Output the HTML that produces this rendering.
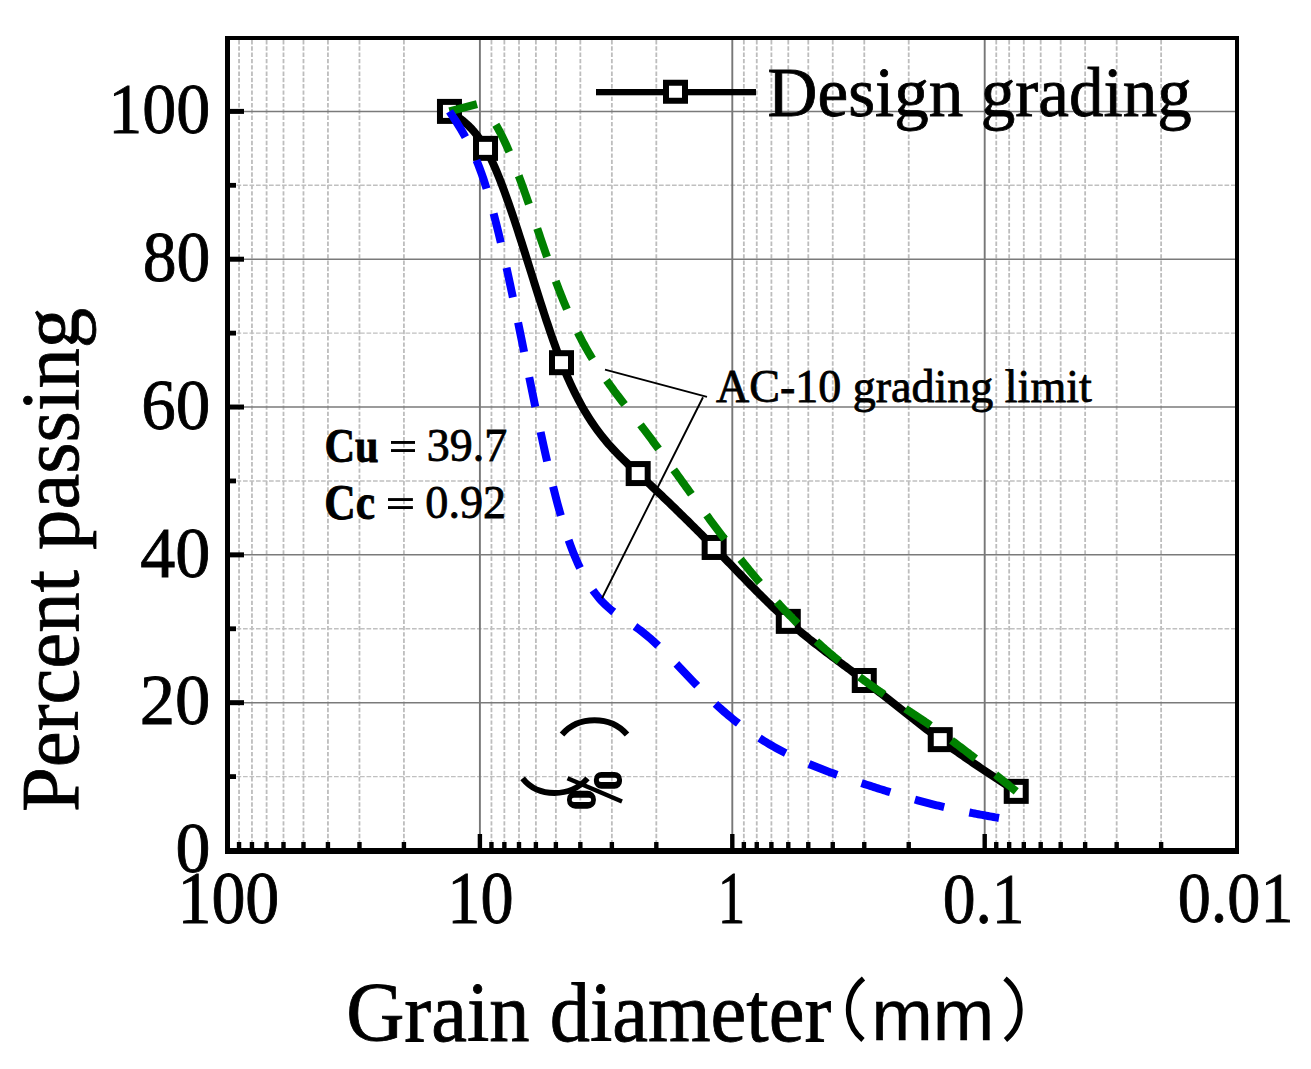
<!DOCTYPE html>
<html><head><meta charset="utf-8"><style>
html,body{margin:0;padding:0;background:#fff;width:1311px;height:1069px;overflow:hidden}
svg{display:block}
text{fill:#000}
.mv{stroke:#bdbdbd;stroke-width:1.8;stroke-dasharray:4.4 1.9}
.mh{stroke:#c0c0c0;stroke-width:1.4;stroke-dasharray:4.7 1.8}
.Mv{stroke:#777;stroke-width:1.9}
.Mh{stroke:#7a7a7a;stroke-width:1.5}
</style></head><body>
<svg width="1311" height="1069" viewBox="0 0 1311 1069">
<rect x="0" y="0" width="1311" height="1069" fill="#fff"/>
<g><line x1="403.92" y1="40" x2="403.92" y2="848" class="mv"/><line x1="359.47" y1="40" x2="359.47" y2="848" class="mv"/><line x1="327.94" y1="40" x2="327.94" y2="848" class="mv"/><line x1="303.48" y1="40" x2="303.48" y2="848" class="mv"/><line x1="283.49" y1="40" x2="283.49" y2="848" class="mv"/><line x1="266.60" y1="40" x2="266.60" y2="848" class="mv"/><line x1="251.96" y1="40" x2="251.96" y2="848" class="mv"/><line x1="239.05" y1="40" x2="239.05" y2="848" class="mv"/><line x1="656.32" y1="40" x2="656.32" y2="848" class="mv"/><line x1="611.87" y1="40" x2="611.87" y2="848" class="mv"/><line x1="580.34" y1="40" x2="580.34" y2="848" class="mv"/><line x1="555.88" y1="40" x2="555.88" y2="848" class="mv"/><line x1="535.89" y1="40" x2="535.89" y2="848" class="mv"/><line x1="519.00" y1="40" x2="519.00" y2="848" class="mv"/><line x1="504.36" y1="40" x2="504.36" y2="848" class="mv"/><line x1="491.45" y1="40" x2="491.45" y2="848" class="mv"/><line x1="908.72" y1="40" x2="908.72" y2="848" class="mv"/><line x1="864.27" y1="40" x2="864.27" y2="848" class="mv"/><line x1="832.74" y1="40" x2="832.74" y2="848" class="mv"/><line x1="808.28" y1="40" x2="808.28" y2="848" class="mv"/><line x1="788.29" y1="40" x2="788.29" y2="848" class="mv"/><line x1="771.40" y1="40" x2="771.40" y2="848" class="mv"/><line x1="756.76" y1="40" x2="756.76" y2="848" class="mv"/><line x1="743.85" y1="40" x2="743.85" y2="848" class="mv"/><line x1="1161.12" y1="40" x2="1161.12" y2="848" class="mv"/><line x1="1116.67" y1="40" x2="1116.67" y2="848" class="mv"/><line x1="1085.14" y1="40" x2="1085.14" y2="848" class="mv"/><line x1="1060.68" y1="40" x2="1060.68" y2="848" class="mv"/><line x1="1040.69" y1="40" x2="1040.69" y2="848" class="mv"/><line x1="1023.80" y1="40" x2="1023.80" y2="848" class="mv"/><line x1="1009.16" y1="40" x2="1009.16" y2="848" class="mv"/><line x1="996.25" y1="40" x2="996.25" y2="848" class="mv"/><line x1="230" y1="776.59" x2="1235" y2="776.59" class="mh"/><line x1="230" y1="628.77" x2="1235" y2="628.77" class="mh"/><line x1="230" y1="480.95" x2="1235" y2="480.95" class="mh"/><line x1="230" y1="333.13" x2="1235" y2="333.13" class="mh"/><line x1="230" y1="185.31" x2="1235" y2="185.31" class="mh"/><line x1="479.90" y1="40" x2="479.90" y2="848" class="Mv"/><line x1="732.30" y1="40" x2="732.30" y2="848" class="Mv"/><line x1="984.70" y1="40" x2="984.70" y2="848" class="Mv"/><line x1="230" y1="702.68" x2="1235" y2="702.68" class="Mh"/><line x1="230" y1="554.86" x2="1235" y2="554.86" class="Mh"/><line x1="230" y1="407.04" x2="1235" y2="407.04" class="Mh"/><line x1="230" y1="259.22" x2="1235" y2="259.22" class="Mh"/><line x1="230" y1="111.40" x2="1235" y2="111.40" class="Mh"/></g>
<g><rect x="230" y="848.00" width="14" height="5" fill="#000"/><rect x="230" y="700.18" width="14" height="5" fill="#000"/><rect x="230" y="552.36" width="14" height="5" fill="#000"/><rect x="230" y="404.54" width="14" height="5" fill="#000"/><rect x="230" y="256.72" width="14" height="5" fill="#000"/><rect x="230" y="108.90" width="14" height="5" fill="#000"/><rect x="230" y="774.19" width="6" height="4.8" fill="#000"/><rect x="230" y="626.37" width="6" height="4.8" fill="#000"/><rect x="230" y="478.55" width="6" height="4.8" fill="#000"/><rect x="230" y="330.73" width="6" height="4.8" fill="#000"/><rect x="230" y="182.91" width="6" height="4.8" fill="#000"/><rect x="477.70" y="834" width="4.4" height="14" fill="#000"/><rect x="730.10" y="834" width="4.4" height="14" fill="#000"/><rect x="982.50" y="834" width="4.4" height="14" fill="#000"/><rect x="401.72" y="842" width="4.4" height="6" fill="#000"/><rect x="357.27" y="842" width="4.4" height="6" fill="#000"/><rect x="325.74" y="842" width="4.4" height="6" fill="#000"/><rect x="301.28" y="842" width="4.4" height="6" fill="#000"/><rect x="281.29" y="842" width="4.4" height="6" fill="#000"/><rect x="264.40" y="842" width="4.4" height="6" fill="#000"/><rect x="249.76" y="842" width="4.4" height="6" fill="#000"/><rect x="236.85" y="842" width="4.4" height="6" fill="#000"/><rect x="654.12" y="842" width="4.4" height="6" fill="#000"/><rect x="609.67" y="842" width="4.4" height="6" fill="#000"/><rect x="578.14" y="842" width="4.4" height="6" fill="#000"/><rect x="553.68" y="842" width="4.4" height="6" fill="#000"/><rect x="533.69" y="842" width="4.4" height="6" fill="#000"/><rect x="516.80" y="842" width="4.4" height="6" fill="#000"/><rect x="502.16" y="842" width="4.4" height="6" fill="#000"/><rect x="489.25" y="842" width="4.4" height="6" fill="#000"/><rect x="906.52" y="842" width="4.4" height="6" fill="#000"/><rect x="862.07" y="842" width="4.4" height="6" fill="#000"/><rect x="830.54" y="842" width="4.4" height="6" fill="#000"/><rect x="806.08" y="842" width="4.4" height="6" fill="#000"/><rect x="786.09" y="842" width="4.4" height="6" fill="#000"/><rect x="769.20" y="842" width="4.4" height="6" fill="#000"/><rect x="754.56" y="842" width="4.4" height="6" fill="#000"/><rect x="741.65" y="842" width="4.4" height="6" fill="#000"/><rect x="1158.92" y="842" width="4.4" height="6" fill="#000"/><rect x="1114.47" y="842" width="4.4" height="6" fill="#000"/><rect x="1082.94" y="842" width="4.4" height="6" fill="#000"/><rect x="1058.48" y="842" width="4.4" height="6" fill="#000"/><rect x="1038.49" y="842" width="4.4" height="6" fill="#000"/><rect x="1021.60" y="842" width="4.4" height="6" fill="#000"/><rect x="1006.96" y="842" width="4.4" height="6" fill="#000"/><rect x="994.05" y="842" width="4.4" height="6" fill="#000"/></g>
<path d="M449.47,111.40 L451.36,112.63 L453.26,113.87 L455.15,115.14 L457.05,116.44 L458.94,117.79 L460.84,119.20 L462.74,120.68 L464.63,122.24 L466.53,123.90 L468.42,125.67 L470.32,127.55 L472.21,129.56 L474.11,131.71 L476.00,134.02 L477.90,136.50 L479.80,139.15 L481.69,141.99 L483.59,145.03 L485.48,148.28 L487.38,151.76 L489.27,155.45 L491.17,159.35 L493.06,163.44 L494.96,167.73 L496.86,172.19 L498.75,176.82 L500.65,181.60 L502.54,186.54 L504.44,191.62 L506.33,196.83 L508.23,202.16 L510.12,207.60 L512.02,213.14 L513.92,218.78 L515.81,224.50 L517.71,230.29 L519.60,236.15 L521.50,242.06 L523.39,248.02 L525.29,254.02 L527.18,260.04 L529.08,266.08 L530.98,272.12 L532.87,278.17 L534.77,284.20 L536.66,290.21 L538.56,296.20 L540.45,302.14 L542.35,308.03 L544.24,313.87 L546.14,319.64 L548.04,325.33 L549.93,330.93 L551.83,336.44 L553.72,341.84 L555.62,347.12 L557.51,352.28 L559.41,357.31 L561.30,362.19 L563.20,366.92 L565.10,371.50 L566.99,375.94 L568.89,380.23 L570.78,384.38 L572.68,388.40 L574.57,392.29 L576.47,396.05 L578.36,399.68 L580.26,403.20 L582.16,406.60 L584.05,409.89 L585.95,413.07 L587.84,416.15 L589.74,419.13 L591.63,422.01 L593.53,424.80 L595.42,427.50 L597.32,430.12 L599.22,432.66 L601.11,435.12 L603.01,437.51 L604.90,439.83 L606.80,442.09 L608.69,444.28 L610.59,446.42 L612.48,448.51 L614.38,450.55 L616.27,452.54 L618.17,454.49 L620.07,456.40 L621.96,458.28 L623.86,460.13 L625.75,461.96 L627.65,463.76 L629.54,465.54 L631.44,467.32 L633.33,469.08 L635.23,470.83 L637.13,472.59 L639.02,474.34 L640.92,476.10 L642.81,477.86 L644.71,479.63 L646.60,481.40 L648.50,483.18 L650.39,484.96 L652.29,486.74 L654.19,488.53 L656.08,490.32 L657.98,492.12 L659.87,493.92 L661.77,495.72 L663.66,497.53 L665.56,499.34 L667.45,501.16 L669.35,502.99 L671.25,504.81 L673.14,506.64 L675.04,508.48 L676.93,510.32 L678.83,512.17 L680.72,514.02 L682.62,515.87 L684.51,517.73 L686.41,519.60 L688.31,521.47 L690.20,523.34 L692.10,525.22 L693.99,527.11 L695.89,529.00 L697.78,530.89 L699.68,532.79 L701.57,534.69 L703.47,536.60 L705.37,538.52 L707.26,540.44 L709.16,542.36 L711.05,544.30 L712.95,546.23 L714.84,548.17 L716.74,550.12 L718.63,552.07 L720.53,554.02 L722.43,555.98 L724.32,557.94 L726.22,559.91 L728.11,561.87 L730.01,563.84 L731.90,565.80 L733.80,567.77 L735.69,569.73 L737.59,571.69 L739.49,573.65 L741.38,575.61 L743.28,577.56 L745.17,579.51 L747.07,581.46 L748.96,583.40 L750.86,585.33 L752.75,587.26 L754.65,589.18 L756.55,591.09 L758.44,592.99 L760.34,594.89 L762.23,596.77 L764.13,598.65 L766.02,600.51 L767.92,602.36 L769.81,604.20 L771.71,606.03 L773.61,607.84 L775.50,609.64 L777.40,611.43 L779.29,613.20 L781.19,614.95 L783.08,616.69 L784.98,618.41 L786.87,620.11 L788.77,621.80 L790.66,623.47 L792.56,625.11 L794.46,626.74 L796.35,628.36 L798.25,629.96 L800.14,631.54 L802.04,633.11 L803.93,634.66 L805.83,636.20 L807.72,637.73 L809.62,639.25 L811.52,640.75 L813.41,642.24 L815.31,643.72 L817.20,645.20 L819.10,646.66 L820.99,648.12 L822.89,649.56 L824.78,651.00 L826.68,652.44 L828.58,653.87 L830.47,655.29 L832.37,656.71 L834.26,658.12 L836.16,659.53 L838.05,660.94 L839.95,662.35 L841.84,663.76 L843.74,665.16 L845.64,666.57 L847.53,667.97 L849.43,669.38 L851.32,670.78 L853.22,672.20 L855.11,673.61 L857.01,675.03 L858.90,676.45 L860.80,677.88 L862.70,679.31 L864.59,680.75 L866.49,682.19 L868.38,683.65 L870.28,685.10 L872.17,686.57 L874.07,688.04 L875.96,689.51 L877.86,690.99 L879.76,692.47 L881.65,693.96 L883.55,695.45 L885.44,696.94 L887.34,698.43 L889.23,699.93 L891.13,701.43 L893.02,702.93 L894.92,704.43 L896.82,705.93 L898.71,707.43 L900.61,708.94 L902.50,710.44 L904.40,711.94 L906.29,713.44 L908.19,714.93 L910.08,716.43 L911.98,717.92 L913.88,719.41 L915.77,720.90 L917.67,722.38 L919.56,723.86 L921.46,725.33 L923.35,726.80 L925.25,728.27 L927.14,729.73 L929.04,731.18 L930.94,732.63 L932.83,734.07 L934.73,735.50 L936.62,736.93 L938.52,738.34 L940.41,739.75 L942.31,741.15 L944.20,742.55 L946.10,743.93 L947.99,745.31 L949.89,746.67 L951.79,748.04 L953.68,749.39 L955.58,750.74 L957.47,752.08 L959.37,753.41 L961.26,754.74 L963.16,756.06 L965.05,757.37 L966.95,758.68 L968.85,759.98 L970.74,761.28 L972.64,762.57 L974.53,763.86 L976.43,765.14 L978.32,766.42 L980.22,767.70 L982.11,768.97 L984.01,770.23 L985.91,771.49 L987.80,772.75 L989.70,774.01 L991.59,775.26 L993.49,776.51 L995.38,777.76 L997.28,779.00 L999.17,780.25 L1001.07,781.49 L1002.97,782.73 L1004.86,783.97 L1006.76,785.20 L1008.65,786.44 L1010.55,787.67 L1012.44,788.91 L1014.34,790.14 L1016.23,791.37" fill="none" stroke="#000" stroke-width="8.0" stroke-linejoin="round"/>
<rect x="439.97" y="101.90" width="19.0" height="19.0" fill="#fff" stroke="#000" stroke-width="6.0"/>
<rect x="476.02" y="138.86" width="19.0" height="19.0" fill="#fff" stroke="#000" stroke-width="6.0"/>
<rect x="552.00" y="353.19" width="19.0" height="19.0" fill="#fff" stroke="#000" stroke-width="6.0"/>
<rect x="628.68" y="464.06" width="19.0" height="19.0" fill="#fff" stroke="#000" stroke-width="6.0"/>
<rect x="704.66" y="537.97" width="19.0" height="19.0" fill="#fff" stroke="#000" stroke-width="6.0"/>
<rect x="778.79" y="611.88" width="19.0" height="19.0" fill="#fff" stroke="#000" stroke-width="6.0"/>
<rect x="854.77" y="671.01" width="19.0" height="19.0" fill="#fff" stroke="#000" stroke-width="6.0"/>
<rect x="930.75" y="730.13" width="19.0" height="19.0" fill="#fff" stroke="#000" stroke-width="6.0"/>
<rect x="1006.73" y="781.87" width="19.0" height="19.0" fill="#fff" stroke="#000" stroke-width="6.0"/>
<path d="M495.83,124.81 L496.78,126.40 L497.72,128.04 L498.67,129.73 L499.62,131.47 L500.56,133.27 L501.51,135.11 L502.45,137.00 L503.40,138.94 L504.35,140.93 L505.29,142.95 L506.24,145.03 L507.18,147.14 L508.13,149.29 L509.08,151.48 L510.02,153.71 L510.97,155.98 L511.92,158.28 L512.86,160.61 L513.81,162.98 L514.75,165.38 L515.70,167.81 L516.65,170.27 L517.59,172.75 L518.54,175.27 L519.49,177.81 L520.43,180.37 L521.38,182.95 L522.32,185.56 L523.27,188.18 L524.22,190.83 L525.16,193.49 L526.11,196.17 L527.05,198.86 L528.00,201.57 L528.95,204.29 L529.89,207.02 L530.84,209.76 L531.79,212.51 L532.73,215.27 L533.68,218.03 L534.62,220.80 L535.57,223.57 L536.52,226.35 L537.46,229.12 L538.41,231.90 L539.36,234.67 L540.30,237.45 L541.25,240.21 L542.19,242.98 L543.14,245.73 L544.09,248.48 L545.03,251.22 L545.98,253.95 L546.92,256.67 L547.87,259.38 L548.82,262.07 L549.76,264.74 L550.71,267.40 L551.66,270.04 L552.60,272.67 L553.55,275.27 L554.49,277.85 L555.44,280.41 L556.39,282.94 L557.33,285.45 L558.28,287.93 L559.23,290.39 L560.17,292.81 L561.12,295.21 L562.06,297.57 L563.01,299.90 L563.96,302.20 L564.90,304.47 L565.85,306.71 L566.79,308.92 L567.74,311.10 L568.69,313.25 L569.63,315.37 L570.58,317.46 L571.53,319.52 L572.47,321.56 L573.42,323.57 L574.36,325.55 L575.31,327.51 L576.26,329.44 L577.20,331.35 L578.15,333.23 L579.10,335.09 L580.04,336.92 L580.99,338.73 L581.93,340.52 L582.88,342.28 L583.83,344.03 L584.77,345.75 L585.72,347.45 L586.66,349.12 L587.61,350.78 L588.56,352.42 L589.50,354.04 L590.45,355.64 L591.40,357.22 L592.34,358.79 L593.29,360.33 L594.23,361.86 L595.18,363.37 L596.13,364.87 L597.07,366.35 L598.02,367.81 L598.97,369.26 L599.91,370.69 L600.86,372.12 L601.80,373.52 L602.75,374.92 L603.70,376.30 L604.64,377.67 L605.59,379.02 L606.53,380.37 L607.48,381.70 L608.43,383.03 L609.37,384.34 L610.32,385.65 L611.27,386.94 L612.21,388.23 L613.16,389.50 L614.10,390.77 L615.05,392.04 L616.00,393.29 L616.94,394.54 L617.89,395.79 L618.84,397.02 L619.78,398.26 L620.73,399.48 L621.67,400.71 L622.62,401.93 L623.57,403.14 L624.51,404.36 L625.46,405.57 L626.40,406.78 L627.35,407.98 L628.30,409.19 L629.24,410.39 L630.19,411.60 L631.14,412.80 L632.08,414.01 L633.03,415.22 L633.97,416.43 L634.92,417.64 L635.87,418.85 L636.81,420.06 L637.76,421.28 L638.71,422.50 L639.65,423.73 L640.60,424.96 L641.54,426.20 L642.49,427.43 L643.44,428.67 L644.38,429.92 L645.33,431.17 L646.27,432.42 L647.22,433.67 L648.17,434.93 L649.11,436.19 L650.06,437.45 L651.01,438.72 L651.95,439.99 L652.90,441.26 L653.84,442.53 L654.79,443.81 L655.74,445.09 L656.68,446.37 L657.63,447.66 L658.57,448.94 L659.52,450.23 L660.47,451.52 L661.41,452.81 L662.36,454.11 L663.31,455.40 L664.25,456.70 L665.20,458.00 L666.14,459.30 L667.09,460.60 L668.04,461.90 L668.98,463.21 L669.93,464.51 L670.88,465.82 L671.82,467.13 L672.77,468.44 L673.71,469.75 L674.66,471.06 L675.61,472.37 L676.55,473.68 L677.50,474.99 L678.44,476.30 L679.39,477.62 L680.34,478.93 L681.28,480.24 L682.23,481.56 L683.18,482.87 L684.12,484.18 L685.07,485.49 L686.01,486.81 L686.96,488.12 L687.91,489.43 L688.85,490.74 L689.80,492.05 L690.75,493.36 L691.69,494.67 L692.64,495.98 L693.58,497.28 L694.53,498.59 L695.48,499.89 L696.42,501.20 L697.37,502.50 L698.31,503.80 L699.26,505.10 L700.21,506.40 L701.15,507.69 L702.10,508.99 L703.05,510.28 L703.99,511.57 L704.94,512.86 L705.88,514.15 L706.83,515.43 L707.78,516.71 L708.72,517.99 L709.67,519.27 L710.62,520.55 L711.56,521.82 L712.51,523.09 L713.45,524.36 L714.40,525.62 L715.35,526.88 L716.29,528.14 L717.24,529.40 L718.18,530.65 L719.13,531.90 L720.08,533.14 L721.02,534.39 L721.97,535.63 L722.92,536.87 L723.86,538.10 L724.81,539.33 L725.75,540.56 L726.70,541.78 L727.65,543.01 L728.59,544.22 L729.54,545.44 L730.49,546.65 L731.43,547.86 L732.38,549.07 L733.32,550.27 L734.27,551.47 L735.22,552.67 L736.16,553.86 L737.11,555.05 L738.05,556.23 L739.00,557.42 L739.95,558.60 L740.89,559.77 L741.84,560.95 L742.79,562.12 L743.73,563.28 L744.68,564.44 L745.62,565.60 L746.57,566.76 L747.52,567.91 L748.46,569.06 L749.41,570.20 L750.36,571.35 L751.30,572.48 L752.25,573.62 L753.19,574.75 L754.14,575.88 L755.09,577.00 L756.03,578.12 L756.98,579.24 L757.92,580.35 L758.87,581.46 L759.82,582.56 L760.76,583.66 L761.71,584.76 L762.66,585.85 L763.60,586.94 L764.55,588.03 L765.49,589.11 L766.44,590.19 L767.39,591.27 L768.33,592.34 L769.28,593.40 L770.23,594.47 L771.17,595.52 L772.12,596.58 L773.06,597.63 L774.01,598.68 L774.96,599.72 L775.90,600.76 L776.85,601.79 L777.79,602.83 L778.74,603.85 L779.69,604.88 L780.63,605.89 L781.58,606.91 L782.53,607.92 L783.47,608.92 L784.42,609.93 L785.36,610.92 L786.31,611.92 L787.26,612.91 L788.20,613.89 L789.15,614.87 L790.10,615.85 L791.04,616.82 L791.99,617.79 L792.93,618.75 L793.88,619.71 L794.83,620.67 L795.77,621.62 L796.72,622.57 L797.66,623.51 L798.61,624.45 L799.56,625.39 L800.50,626.32 L801.45,627.24 L802.40,628.17 L803.34,629.09 L804.29,630.00 L805.23,630.91 L806.18,631.82 L807.13,632.72 L808.07,633.62 L809.02,634.51 L809.97,635.40 L810.91,636.29 L811.86,637.18 L812.80,638.05 L813.75,638.93 L814.70,639.80 L815.64,640.67 L816.59,641.53 L817.53,642.39 L818.48,643.25 L819.43,644.10 L820.37,644.95 L821.32,645.80 L822.27,646.64 L823.21,647.48 L824.16,648.31 L825.10,649.14 L826.05,649.97 L827.00,650.79 L827.94,651.61 L828.89,652.43 L829.84,653.24 L830.78,654.05 L831.73,654.85 L832.67,655.65 L833.62,656.45 L834.57,657.25 L835.51,658.04 L836.46,658.83 L837.40,659.61 L838.35,660.39 L839.30,661.17 L840.24,661.94 L841.19,662.71 L842.14,663.48 L843.08,664.24 L844.03,665.01 L844.97,665.76 L845.92,666.52 L846.87,667.27 L847.81,668.01 L848.76,668.76 L849.71,669.50 L850.65,670.24 L851.60,670.97 L852.54,671.70 L853.49,672.43 L854.44,673.15 L855.38,673.88 L856.33,674.59 L857.27,675.31 L858.22,676.02 L859.17,676.73 L860.11,677.44 L861.06,678.14 L862.01,678.84 L862.95,679.54 L863.90,680.23 L864.84,680.92 L865.79,681.61 L866.74,682.30 L867.68,682.98 L868.63,683.66 L869.58,684.33 L870.52,685.01 L871.47,685.68 L872.41,686.35 L873.36,687.02 L874.31,687.68 L875.25,688.34 L876.20,689.00 L877.14,689.66 L878.09,690.32 L879.04,690.97 L879.98,691.62 L880.93,692.27 L881.88,692.92 L882.82,693.57 L883.77,694.21 L884.71,694.86 L885.66,695.50 L886.61,696.14 L887.55,696.78 L888.50,697.42 L889.45,698.05 L890.39,698.69 L891.34,699.32 L892.28,699.95 L893.23,700.59 L894.18,701.22 L895.12,701.85 L896.07,702.48 L897.01,703.11 L897.96,703.73 L898.91,704.36 L899.85,704.99 L900.80,705.62 L901.75,706.24 L902.69,706.87 L903.64,707.49 L904.58,708.12 L905.53,708.75 L906.48,709.37 L907.42,710.00 L908.37,710.62 L909.32,711.25 L910.26,711.87 L911.21,712.50 L912.15,713.13 L913.10,713.75 L914.05,714.38 L914.99,715.01 L915.94,715.64 L916.88,716.27 L917.83,716.90 L918.78,717.53 L919.72,718.16 L920.67,718.80 L921.62,719.43 L922.56,720.07 L923.51,720.70 L924.45,721.34 L925.40,721.98 L926.35,722.62 L927.29,723.26 L928.24,723.91 L929.19,724.55 L930.13,725.20 L931.08,725.85 L932.02,726.50 L932.97,727.15 L933.92,727.81 L934.86,728.46 L935.81,729.12 L936.75,729.78 L937.70,730.44 L938.65,731.11 L939.59,731.78 L940.54,732.45 L941.49,733.12 L942.43,733.79 L943.38,734.47 L944.32,735.15 L945.27,735.83 L946.22,736.52 L947.16,737.20 L948.11,737.89 L949.06,738.58 L950.00,739.27 L950.95,739.97 L951.89,740.67 L952.84,741.37 L953.79,742.07 L954.73,742.77 L955.68,743.48 L956.62,744.18 L957.57,744.89 L958.52,745.60 L959.46,746.32 L960.41,747.03 L961.36,747.75 L962.30,748.47 L963.25,749.19 L964.19,749.91 L965.14,750.63 L966.09,751.36 L967.03,752.09 L967.98,752.81 L968.93,753.54 L969.87,754.28 L970.82,755.01 L971.76,755.74 L972.71,756.48 L973.66,757.22 L974.60,757.96 L975.55,758.70 L976.49,759.44 L977.44,760.18 L978.39,760.93 L979.33,761.67 L980.28,762.42 L981.23,763.17 L982.17,763.91 L983.12,764.66 L984.06,765.42 L985.01,766.17 L985.96,766.92 L986.90,767.68 L987.85,768.43 L988.80,769.19 L989.74,769.94 L990.69,770.70 L991.63,771.46 L992.58,772.22 L993.53,772.98 L994.47,773.74 L995.42,774.50 L996.36,775.26 L997.31,776.03 L998.26,776.79 L999.20,777.55 L1000.15,778.32 L1001.10,779.08 L1002.04,779.85 L1002.99,780.62 L1003.93,781.38 L1004.88,782.15 L1005.83,782.92 L1006.77,783.68 L1007.72,784.45 L1008.67,785.22 L1009.61,785.99 L1010.56,786.76 L1011.50,787.53 L1012.45,788.29 L1013.40,789.06 L1014.34,789.83 L1015.29,790.60 L1016.23,791.37" fill="none" stroke="#008000" stroke-width="8.0" stroke-dasharray="30.2 25.7"/>
<path d="M449.47,111.40 L477.0,104.2" fill="none" stroke="#008000" stroke-width="8.0"/>
<path d="M449.47,111.40 L451.36,114.26 L453.26,117.13 L455.15,120.04 L457.05,122.99 L458.94,126.02 L460.84,129.13 L462.74,132.35 L464.63,135.68 L466.53,139.16 L468.42,142.78 L470.32,146.58 L472.21,150.57 L474.11,154.76 L476.00,159.17 L477.90,163.83 L479.80,168.74 L481.69,173.92 L483.59,179.40 L485.48,185.18 L487.38,191.29 L489.27,197.70 L491.17,204.41 L493.06,211.40 L494.96,218.66 L496.86,226.16 L498.75,233.89 L500.65,241.84 L502.54,250.00 L504.44,258.33 L506.33,266.84 L508.23,275.50 L510.12,284.30 L512.02,293.22 L513.92,302.25 L515.81,311.38 L517.71,320.57 L519.60,329.83 L521.50,339.14 L523.39,348.47 L525.29,357.82 L527.18,367.16 L529.08,376.49 L530.98,385.78 L532.87,395.03 L534.77,404.21 L536.66,413.31 L538.56,422.32 L540.45,431.21 L542.35,439.98 L544.24,448.60 L546.14,457.07 L548.04,465.36 L549.93,473.46 L551.83,481.36 L553.72,489.04 L555.62,496.48 L557.51,503.67 L559.41,510.59 L561.30,517.23 L563.20,523.57 L565.10,529.62 L566.99,535.39 L568.89,540.88 L570.78,546.10 L572.68,551.06 L574.57,555.78 L576.47,560.26 L578.36,564.50 L580.26,568.52 L582.16,572.32 L584.05,575.92 L585.95,579.32 L587.84,582.53 L589.74,585.56 L591.63,588.42 L593.53,591.12 L595.42,593.66 L597.32,596.06 L599.22,598.32 L601.11,600.45 L603.01,602.46 L604.90,604.36 L606.80,606.16 L608.69,607.86 L610.59,609.48 L612.48,611.02 L614.38,612.49 L616.27,613.91 L618.17,615.27 L620.07,616.59 L621.96,617.88 L623.86,619.14 L625.75,620.39 L627.65,621.63 L629.54,622.87 L631.44,624.12 L633.33,625.39 L635.23,626.68 L637.13,628.01 L639.02,629.39 L640.92,630.81 L642.81,632.28 L644.71,633.80 L646.60,635.35 L648.50,636.95 L650.39,638.59 L652.29,640.26 L654.19,641.97 L656.08,643.71 L657.98,645.48 L659.87,647.28 L661.77,649.10 L663.66,650.95 L665.56,652.83 L667.45,654.73 L669.35,656.64 L671.25,658.57 L673.14,660.52 L675.04,662.48 L676.93,664.45 L678.83,666.44 L680.72,668.43 L682.62,670.42 L684.51,672.42 L686.41,674.42 L688.31,676.42 L690.20,678.42 L692.10,680.41 L693.99,682.40 L695.89,684.38 L697.78,686.35 L699.68,688.31 L701.57,690.26 L703.47,692.19 L705.37,694.10 L707.26,695.99 L709.16,697.86 L711.05,699.71 L712.95,701.53 L714.84,703.33 L716.74,705.09 L718.63,706.83 L720.53,708.54 L722.43,710.23 L724.32,711.88 L726.22,713.51 L728.11,715.11 L730.01,716.69 L731.90,718.24 L733.80,719.77 L735.69,721.27 L737.59,722.75 L739.49,724.20 L741.38,725.63 L743.28,727.04 L745.17,728.42 L747.07,729.78 L748.96,731.12 L750.86,732.43 L752.75,733.73 L754.65,735.00 L756.55,736.25 L758.44,737.48 L760.34,738.69 L762.23,739.88 L764.13,741.05 L766.02,742.20 L767.92,743.34 L769.81,744.45 L771.71,745.55 L773.61,746.63 L775.50,747.69 L777.40,748.73 L779.29,749.76 L781.19,750.77 L783.08,751.76 L784.98,752.74 L786.87,753.70 L788.77,754.65 L790.66,755.59 L792.56,756.51 L794.46,757.41 L796.35,758.30 L798.25,759.18 L800.14,760.05 L802.04,760.90 L803.93,761.74 L805.83,762.57 L807.72,763.39 L809.62,764.19 L811.52,764.99 L813.41,765.77 L815.31,766.55 L817.20,767.31 L819.10,768.06 L820.99,768.81 L822.89,769.54 L824.78,770.27 L826.68,770.99 L828.58,771.70 L830.47,772.40 L832.37,773.09 L834.26,773.78 L836.16,774.46 L838.05,775.14 L839.95,775.80 L841.84,776.47 L843.74,777.12 L845.64,777.78 L847.53,778.42 L849.43,779.07 L851.32,779.70 L853.22,780.34 L855.11,780.97 L857.01,781.60 L858.90,782.22 L860.80,782.85 L862.70,783.47 L864.59,784.08 L866.49,784.70 L868.38,785.32 L870.28,785.93 L872.17,786.54 L874.07,787.15 L875.96,787.76 L877.86,788.36 L879.76,788.96 L881.65,789.56 L883.55,790.16 L885.44,790.75 L887.34,791.34 L889.23,791.93 L891.13,792.52 L893.02,793.10 L894.92,793.68 L896.82,794.25 L898.71,794.82 L900.61,795.39 L902.50,795.95 L904.40,796.51 L906.29,797.06 L908.19,797.61 L910.08,798.16 L911.98,798.70 L913.88,799.24 L915.77,799.77 L917.67,800.30 L919.56,800.82 L921.46,801.34 L923.35,801.85 L925.25,802.35 L927.14,802.85 L929.04,803.35 L930.94,803.84 L932.83,804.32 L934.73,804.80 L936.62,805.27 L938.52,805.73 L940.41,806.19 L942.31,806.64 L944.20,807.09 L946.10,807.53 L947.99,807.96 L949.89,808.39 L951.79,808.81 L953.68,809.23 L955.58,809.64 L957.47,810.04 L959.37,810.45 L961.26,810.84 L963.16,811.23 L965.05,811.62 L966.95,812.00 L968.85,812.38 L970.74,812.75 L972.64,813.12 L974.53,813.49 L976.43,813.85 L978.32,814.21 L980.22,814.57 L982.11,814.92 L984.01,815.27 L985.91,815.62 L987.80,815.96 L989.70,816.31 L991.59,816.65 L993.49,816.99 L995.38,817.32 L997.28,817.66 L999.17,817.99 L1001.07,818.32 L1002.97,818.65 L1004.86,818.98 L1006.76,819.31 L1008.65,819.63 L1010.55,819.96 L1012.44,820.29 L1014.34,820.61 L1016.23,820.94" fill="none" stroke="#0000ff" stroke-width="8.0" stroke-dasharray="30.2 25.7"/>
<rect x="225" y="36" width="1014" height="4" fill="#000"/>
<rect x="225" y="848" width="1014" height="6" fill="#000"/>
<rect x="225" y="36" width="5" height="818" fill="#000"/>
<rect x="1235" y="36" width="4" height="818" fill="#000"/>
<rect x="596" y="89" width="160" height="6.3" fill="#000"/>
<rect x="666" y="82.75" width="19" height="18" fill="#fff" stroke="#000" stroke-width="6.0"/>
<path d="M605,369.6 L707,396.8 M703,397.2 L602,598.3" stroke="#000" stroke-width="1.9" fill="none"/>
<text transform="translate(108.30,133.04) scale(1.0005,1.0581)" font-family="Liberation Serif" font-size="68" font-weight="400" stroke="#000" stroke-width="0.8">100</text>
<text transform="translate(142.66,280.84) scale(0.9953,1.0581)" font-family="Liberation Serif" font-size="68" font-weight="400" stroke="#000" stroke-width="0.8">80</text>
<text transform="translate(141.26,428.64) scale(1.0166,1.0581)" font-family="Liberation Serif" font-size="68" font-weight="400" stroke="#000" stroke-width="0.8">60</text>
<text transform="translate(140.27,576.54) scale(1.0317,1.0581)" font-family="Liberation Serif" font-size="68" font-weight="400" stroke="#000" stroke-width="0.8">40</text>
<text transform="translate(139.70,724.34) scale(1.0403,1.0581)" font-family="Liberation Serif" font-size="68" font-weight="400" stroke="#000" stroke-width="0.8">20</text>
<text transform="translate(175.49,872.14) scale(1.0271,1.0581)" font-family="Liberation Serif" font-size="68" font-weight="400" stroke="#000" stroke-width="0.8">0</text>
<text transform="translate(177.40,922.92) scale(0.9995,1.0774)" font-family="Liberation Serif" font-size="68" font-weight="400" stroke="#000" stroke-width="0.8">100</text>
<text transform="translate(447.34,922.92) scale(0.9743,1.0774)" font-family="Liberation Serif" font-size="68" font-weight="400" stroke="#000" stroke-width="0.8">10</text>
<text transform="translate(717.86,923.45) scale(0.8081,1.0951)" font-family="Liberation Serif" font-size="68" font-weight="400" stroke="#000" stroke-width="0.8">1</text>
<text transform="translate(942.63,922.66) scale(0.9646,1.0717)" font-family="Liberation Serif" font-size="68" font-weight="400" stroke="#000" stroke-width="0.8">0.1</text>
<text transform="translate(1177.71,922.37) scale(0.9735,1.0674)" font-family="Liberation Serif" font-size="68" font-weight="400" stroke="#000" stroke-width="0.8">0.01</text>
<text transform="translate(78.47,811.99) rotate(-90) scale(0.9960,1.0272)" font-family="Liberation Serif" font-size="81" font-weight="400" stroke="#000" stroke-width="0.8">Percent passing</text>
<text transform="translate(346.22,1040.70) scale(0.9939,1.0397)" font-family="Liberation Serif" font-size="81" font-weight="400" stroke="#000" stroke-width="0.8">Grain diameter</text>
<text transform="translate(871.22,1040.26) scale(0.9861,0.9693)" font-family="Liberation Sans" font-size="75" font-weight="400" stroke="#000" stroke-width="0.3">mm</text>
<text transform="translate(767.60,115.51) scale(0.9974,1.0024)" font-family="Liberation Serif" font-size="69.3" font-weight="400" stroke="#000" stroke-width="0.8">Design grading</text>
<text transform="translate(716.00,402.00) scale(1.0007,0.9953)" font-family="Liberation Serif" font-size="46" font-weight="400" stroke="#000" stroke-width="0.8">AC-10 grading limit</text>
<text transform="translate(324.39,461.93) scale(0.9209,1.0709)" font-family="Liberation Serif" font-size="46" font-weight="700" stroke="#000" stroke-width="0.8">Cu</text>
<text transform="translate(426.85,461.28) scale(0.9981,1.0205)" font-family="Liberation Serif" font-size="46" font-weight="400" stroke="#000" stroke-width="0.8">39.7</text>
<text transform="translate(324.34,519.19) scale(0.9463,1.0794)" font-family="Liberation Serif" font-size="46" font-weight="700" stroke="#000" stroke-width="0.8">Cc</text>
<text transform="translate(425.35,517.90) scale(1.0039,1.0000)" font-family="Liberation Serif" font-size="46" font-weight="400" stroke="#000" stroke-width="0.8">0.92</text>
<rect x="391" y="441" width="24" height="2.9" fill="#000"/><rect x="391" y="449.1" width="24" height="2.9" fill="#000"/>
<rect x="388" y="498.1" width="24.9" height="2.9" fill="#000"/><rect x="388" y="506.1" width="24.9" height="2.9" fill="#000"/>
<path d="M863.5,978.5 C843.5,995 843.5,1024 863,1040" fill="none" stroke="#000" stroke-width="5.2"/>
<path d="M1005,978.5 C1025,995 1025,1024 1005.5,1040" fill="none" stroke="#000" stroke-width="5.2"/>
<path d="M562,734.5 C571,724 581,720.2 594.5,720.2 C608,720.2 618,724 627,734.5" fill="none" stroke="#000" stroke-width="6"/>
<path d="M522.6,778.4 C531,789 541,793 554.5,793 C568,793 578,789 587.5,778.4" fill="none" stroke="#000" stroke-width="5.8"/>
<path fill-rule="evenodd" fill="#000" d="M601.40,771.90 H614.50 A7.50,7.50 0 0 1 622.00,779.40 V781.20 A7.50,7.50 0 0 1 614.50,788.70 H601.40 A7.50,7.50 0 0 1 593.90,781.20 V779.40 A7.50,7.50 0 0 1 601.40,771.90 Z M600.90,777.70 H615.00 A2.10,2.10 0 0 1 617.10,779.80 V779.90 A2.10,2.10 0 0 1 615.00,782.00 H600.90 A2.10,2.10 0 0 1 598.80,779.90 V779.80 A2.10,2.10 0 0 1 600.90,777.70 Z"/>
<path fill-rule="evenodd" fill="#000" d="M575.50,790.80 H587.40 A8.50,8.50 0 0 1 595.90,799.30 V800.30 A8.50,8.50 0 0 1 587.40,808.80 H575.50 A8.50,8.50 0 0 1 567.00,800.30 V799.30 A8.50,8.50 0 0 1 575.50,790.80 Z M573.80,797.80 H589.10 A2.10,2.10 0 0 1 591.20,799.90 V800.00 A2.10,2.10 0 0 1 589.10,802.10 H573.80 A2.10,2.10 0 0 1 571.70,800.00 V799.90 A2.10,2.10 0 0 1 573.80,797.80 Z"/>
<path d="M567.5,778.2 L622,801.5" stroke="#000" stroke-width="4.4"/>
</svg></body></html>
